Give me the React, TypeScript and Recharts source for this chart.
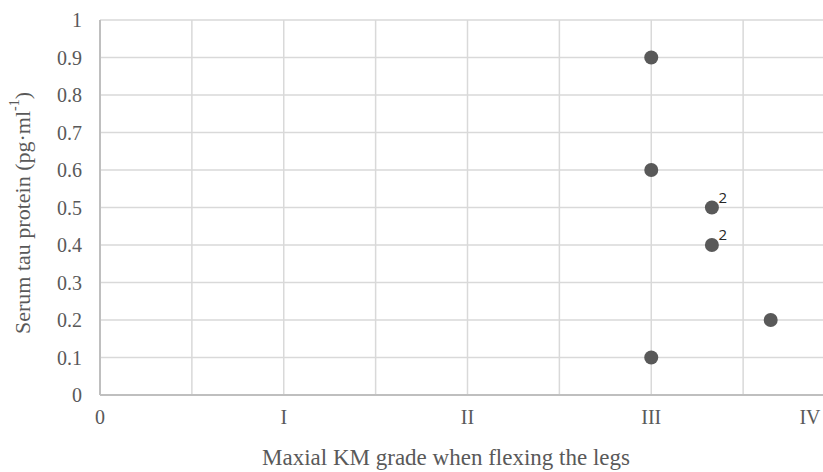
import React from "react";
import {
  ScatterChart,
  Scatter,
  XAxis,
  YAxis,
  CartesianGrid,
  LabelList,
  Label,
} from "recharts";

// grades on the x axis (0..IV), with half steps for the grid only
const gradeTicks = [0, 0.5, 1, 1.5, 2, 2.5, 3, 3.5, 4];
const gradeNames: Record<number, string> = { 0: "0", 1: "I", 2: "II", 3: "III", 4: "IV" };
const tauTicks = [0, 0.1, 0.2, 0.3, 0.4, 0.5, 0.6, 0.7, 0.8, 0.9, 1];

// observations
const grade = [3, 3, 3.33, 3.33, 3.65, 3];
const tau = [0.9, 0.6, 0.5, 0.4, 0.2, 0.1];
const counts = ["", "", "2", "2", "", ""];

const data = grade.map((g, i) => ({ grade: g, tau: tau[i], count: counts[i] }));

const SERIF = "Liberation Serif";
const TEXT = "#595959";

const GradeTick = (props: any) => {
  const { x, y, payload } = props;
  const label = gradeNames[payload.value] ?? "";
  if (!label) return null;
  // keep the last label inside the picture
  const tx = Math.min(x, 810);
  return (
    <text x={tx} y={y + 21} textAnchor="middle" fontFamily={SERIF} fontSize={20} fill={TEXT}>
      {label}
    </text>
  );
};

const TauTick = (props: any) => {
  const { y, payload } = props;
  return (
    <text x={82} y={y + 7} textAnchor="end" fontFamily={SERIF} fontSize={20} fill={TEXT}>
      {payload.value === 0 || payload.value === 1 ? payload.value : payload.value.toFixed(1)}
    </text>
  );
};

const Dot = (p: any) => <circle cx={p.cx} cy={p.cy} r={7} fill="#595959" />;

export default function App() {
  return (
    <div style={{ position: "absolute", left: 0, top: 0, width: 823, height: 472, overflow: "hidden", background: "#fff" }}>
      <ScatterChart width={845} height={472} margin={{ top: 20, right: 10, bottom: 47, left: 0 }}>
        <CartesianGrid stroke="#d9d9d9" strokeWidth={1.5} />
        <XAxis
          type="number"
          dataKey="grade"
          domain={[0, 4]}
          ticks={gradeTicks}
          interval={0}
          height={30}
          tickLine={false}
          axisLine={{ stroke: "#bfbfbf", strokeWidth: 2 }}
          tick={<GradeTick />}
        >
          <Label
            content={() => (
              <text x={446} y={465} textAnchor="middle" fontFamily={SERIF} fontSize={23} fill={TEXT}>
                Maxial KM grade when flexing the legs
              </text>
            )}
          />
        </XAxis>
        <YAxis
          type="number"
          dataKey="tau"
          domain={[0, 1]}
          ticks={tauTicks}
          interval={0}
          width={100}
          tickLine={false}
          tickSize={0}
          axisLine={{ stroke: "#bfbfbf", strokeWidth: 2 }}
          tick={<TauTick />}
        >
          <Label
            content={() => (
              <text
                x={22}
                y={213}
                transform="rotate(-90 22 213)"
                textAnchor="middle"
                dominantBaseline="central"
                fontFamily={SERIF}
                fontSize={22}
                fill={TEXT}
              >
                Serum tau protein (pg·ml
                <tspan dy={-8} fontSize={14}>-1</tspan>
                <tspan dy={8}>)</tspan>
              </text>
            )}
          />
        </YAxis>
        <Scatter data={data} shape={<Dot />} isAnimationActive={false}>
          <LabelList
            dataKey="count"
            content={(lp: any) =>
              lp.value ? (
                <text x={lp.x + lp.width / 2 + 11} y={lp.y + lp.height / 2 - 5} textAnchor="middle" fontFamily="Open Sans" fontSize={15} fill="#262626">
                  {lp.value}
                </text>
              ) : null
            }
          />
        </Scatter>
      </ScatterChart>
    </div>
  );
}
